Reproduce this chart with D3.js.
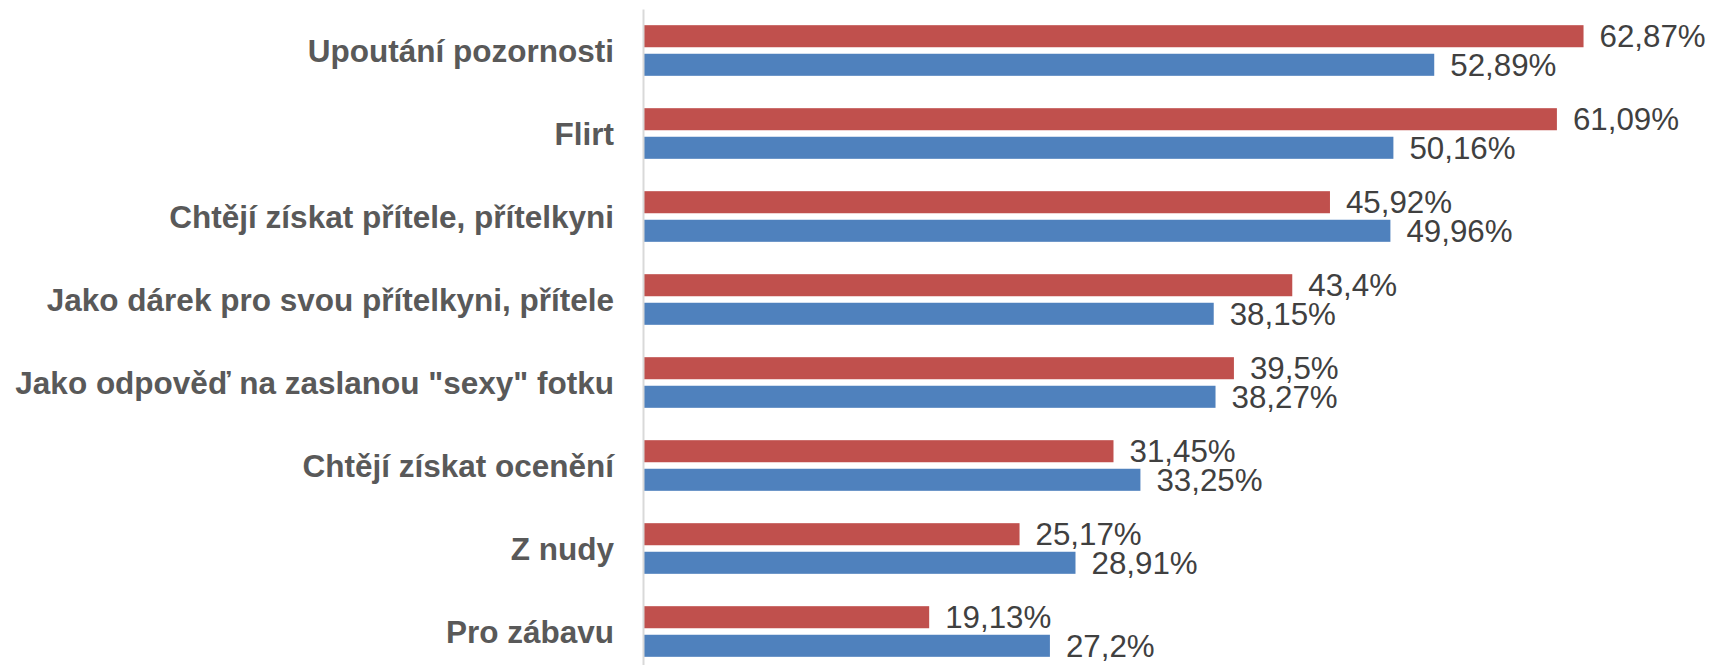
<!DOCTYPE html>
<html>
<head>
<meta charset="utf-8">
<script src="https://cdn.jsdelivr.net/npm/d3@7"></script>
<style>
  html, body { margin: 0; padding: 0; background: #ffffff; }
  svg { display: block; }
</style>
</head>
<body>
<svg id="chart" width="1712" height="665"></svg>
<script>
const categories = [
  "Upoutání pozornosti",
  "Flirt",
  "Chtějí získat přítele, přítelkyni",
  "Jako dárek pro svou přítelkyni, přítele",
  "Jako odpověď na zaslanou \"sexy\" fotku",
  "Chtějí získat ocenění",
  "Z nudy",
  "Pro zábavu"
];
const seriesRed  = [62.87, 61.09, 45.92, 43.4, 39.5, 31.45, 25.17, 19.13];
const seriesBlue = [52.89, 50.16, 49.96, 38.15, 38.27, 33.25, 28.91, 27.2];
const seriesKeys = ["red", "blue"];
const seriesColors = ["#C0504D", "#4F81BD"];

const svg = d3.select("#chart");
const x0 = 643;

const x = d3.scaleLinear().domain([0, 70]).range([x0, x0 + 70 * 14.96]);
const y = d3.scaleBand().domain(categories).range([9, 673])
  .paddingInner(0.39).paddingOuter(0.195);
const ySub = d3.scaleBand().domain(seriesKeys).range([0, y.bandwidth()])
  .paddingInner(0.228).paddingOuter(0);
const color = d3.scaleOrdinal().domain(seriesKeys).range(seriesColors);

const rows = categories.map((c, i) => ({
  category: c,
  values: [
    { key: "red", value: seriesRed[i] },
    { key: "blue", value: seriesBlue[i] }
  ]
}));

const fmt = v => String(v).replace(".", ",") + "%";

const groups = svg.append("g").selectAll("g")
  .data(rows).join("g")
  .attr("transform", d => `translate(0,${y(d.category)})`);

groups.selectAll("rect")
  .data(d => d.values).join("rect")
  .attr("x", x(0) + 1)
  .attr("y", d => ySub(d.key))
  .attr("width", d => x(d.value) - x(0) - 1)
  .attr("height", ySub.bandwidth())
  .attr("fill", d => color(d.key));

groups.selectAll("text.val")
  .data(d => d.values).join("text")
  .attr("class", "val")
  .attr("x", d => x(d.value) + 16)
  .attr("y", d => ySub(d.key) + ySub.bandwidth() / 2)
  .attr("dy", "0.36em")
  .attr("font-family", "'Liberation Sans', Arial, sans-serif")
  .attr("font-size", "31.3px")
  .attr("fill", "#404040")
  .text(d => fmt(d.value));

const axis = svg.append("g")
  .attr("transform", `translate(${x0},0)`)
  .call(d3.axisLeft(y).tickSizeInner(0).tickSizeOuter(0).tickPadding(29));

axis.select(".domain").attr("stroke", "#d9d9d9").attr("stroke-width", 2);
axis.selectAll(".tick text")
  .attr("dy", "0.36em")
  .attr("font-family", "'Liberation Sans', Arial, sans-serif")
  .attr("font-size", "31.5px")
  .attr("font-weight", "bold")
  .attr("fill", "#595959");
</script>
</body>
</html>
